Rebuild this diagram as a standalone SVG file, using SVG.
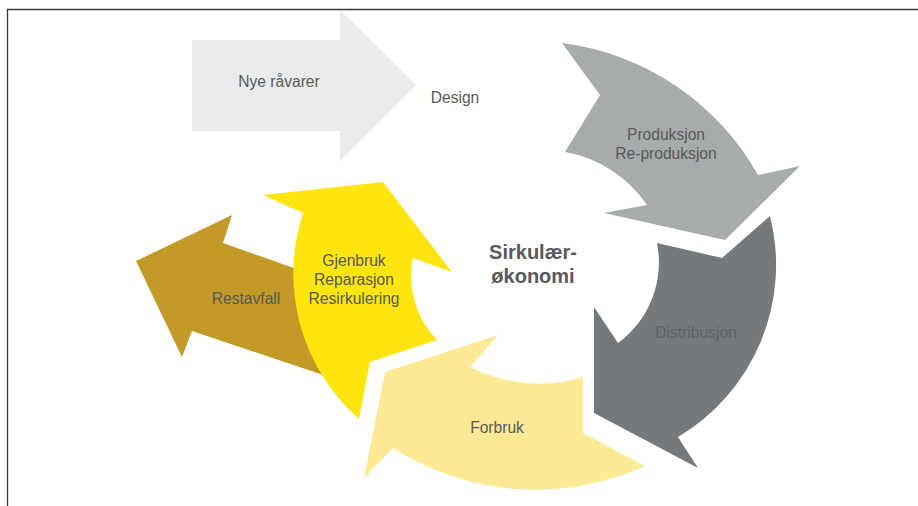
<svg xmlns="http://www.w3.org/2000/svg" width="918" height="506" viewBox="0 0 918 506">
<style>
.t{font-family:"Liberation Sans",Arial,sans-serif;font-size:15.6px;fill:#595959;text-anchor:middle}
.c{font-family:"Liberation Sans",Arial,sans-serif;font-size:20px;font-weight:bold;fill:#58595b;text-anchor:middle}
.frame{stroke:#3a3a3a;stroke-width:1.3;fill:none}
</style>
<rect width="918" height="506" fill="#ffffff"/>
<g id="frame">
<path class="frame" d="M7.5,506 L7.5,9.5 L918,9.5"/>
</g>
<g id="nye-ravarer">
<path d="M192,40 L340,40 L340,10 L416,85 L340,161 L340,131 L192,131 Z" fill="#ebebeb"/>
<text class="t" x="279" y="87">Nye råvarer</text>
</g>
<g id="design">
<text class="t" x="455" y="103">Design</text>
</g>
<g id="produksjon">
<path d="M562,43 A262,262 0 0 1 758,175 L800,166 L725,240 L604,213 L647,205 A125,125 0 0 0 565,152 L600,95 Z" fill="#a8abac"/>
<text class="t" x="666" y="140">Produksjon</text>
<text class="t" x="666" y="159">Re-produksjon</text>
</g>
<g id="distribusjon">
<path d="M657,243 L722,258 L770,216 A200,200 0 0 1 678,437 L698,468 L594,413 L594,307 L618,343 A100,100 0 0 0 657,243 Z" fill="#76797b"/>
<text class="t" x="696" y="338" style="fill:#5e6062">Distribusjon</text>
</g>
<g id="forbruk">
<path d="M583,377 L583,433 L645,466 A265,265 0 0 1 393,448 L364,478 L385,372 L498,335 L470,367 A152,152 0 0 0 583,377 Z" fill="#fee994"/>
<text class="t" x="497" y="433">Forbruk</text>
</g>
<g id="restavfall">
<path d="M136,261 L232,215 L223,243 L345,286 L350,384 L192,331 L182,357 Z" fill="#c39a28"/>
<text class="t" x="246" y="304">Restavfall</text>
</g>
<g id="gjenbruk">
<path d="M359,419 A194,194 0 0 1 303,213 L263,195 L383,182 L452,272 L413,258 A92,92 0 0 0 437,340 L370,362 Z" fill="#fee50f"/>
<text class="t" x="354" y="266">Gjenbruk</text>
<text class="t" x="354" y="285">Reparasjon</text>
<text class="t" x="354" y="304">Resirkulering</text>
</g>
<g id="center">
<text class="c" x="533" y="259">Sirkulær-</text>
<text class="c" x="533" y="283">økonomi</text>
</g>
</svg>
